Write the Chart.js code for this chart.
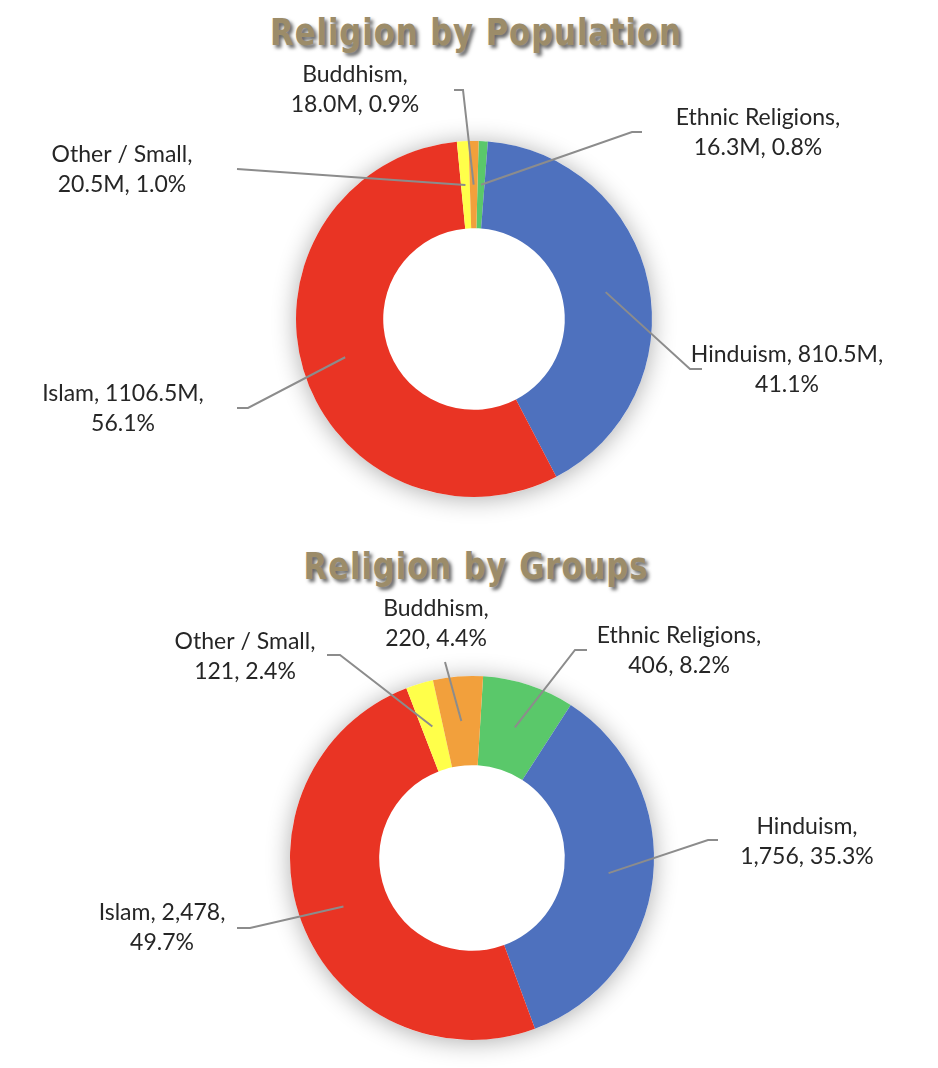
<!DOCTYPE html>
<html>
<head>
<meta charset="utf-8">
<script src="https://cdn.jsdelivr.net/npm/chart.js@4"></script>
<style>
  body { margin: 0; background: #fff; }
  #page { position: relative; width: 938px; height: 1068px; overflow: hidden; }
  .title {
    position: absolute; left: 7px; width: 938px; text-align: center;
    font-family: "DejaVu Sans Condensed", "Liberation Sans Narrow", sans-serif;
    font-weight: bold; font-size: 38px; line-height: 44px; letter-spacing: 1px;
    color: #9c8c69; text-shadow: 3px 3px 4px rgba(0,0,0,0.6);
    transform: scaleX(0.9); transform-origin: 50% 0;
  }
  canvas { position: absolute; left: 0; }
</style>
</head>
<body>
<div id="page">
  <div class="title" style="top:10px">Religion by Population</div>
  <canvas id="populationChart" width="938" height="534" style="top:0"></canvas>
  <div class="title" style="top:544px">Religion by Groups</div>
  <canvas id="groupsChart" width="938" height="534" style="top:534px"></canvas>
</div>
<script>
// data (slice order clockwise from the top)
const categories = ['Ethnic Religions', 'Hinduism', 'Islam', 'Other / Small', 'Buddhism'];
const populationMillions = [16.3, 810.5, 1106.5, 20.5, 18.0];
const groupCounts = [406, 1756, 2478, 121, 220];
const sliceColors = ['#5ac86a', '#4e71be', '#e93424', '#ffff4a', '#f2a03c'];

// label placement: x/y = centre of first text line, brk = break after name (1) or value (2)
const populationLabels = [
  { x: 758, y: 118, brk: 1, elbow: [632, 132], end: [642, 132] },
  { x: 787, y: 355, brk: 2, elbow: [690, 369], end: [702, 369] },
  { x: 123, y: 394, brk: 2, elbow: [248, 408], end: [237, 408] },
  { x: 122, y: 155, brk: 1, elbow: [237, 169], end: [237, 169] },
  { x: 355, y: 75,  brk: 1, elbow: [463, 90],  end: [454, 90] }
];
const groupLabels = [
  { x: 679, y: 636, brk: 1, elbow: [575, 650], end: [587, 650] },
  { x: 807, y: 827, brk: 1, elbow: [708, 840], end: [718, 840] },
  { x: 162, y: 913, brk: 2, elbow: [250, 928], end: [237, 928] },
  { x: 245, y: 642, brk: 1, elbow: [340, 655], end: [327, 655] },
  { x: 436, y: 609, brk: 1, elbow: [445, 662], end: [445, 662] }
];

const ringShadow = {
  id: 'ringShadow',
  beforeDatasetsDraw(chart) {
    const arc = chart.getDatasetMeta(0).data[0];
    if (!arc) return;
    const { x, y, outerRadius } = arc.getProps(['x', 'y', 'outerRadius'], true);
    const ctx = chart.ctx;
    ctx.save();
    ctx.shadowColor = 'rgba(0,0,0,0.32)';
    ctx.shadowBlur = 24;
    ctx.shadowOffsetY = 2;
    ctx.beginPath();
    ctx.arc(x, y, outerRadius, 0, Math.PI * 2);
    ctx.fillStyle = '#fff';
    ctx.fill();
    ctx.restore();
  }
};

function makeLeaderLabels(layout, formatValue, topOffset) {
  return {
    id: 'leaderLabels',
    afterDatasetsDraw(chart) {
      const ctx = chart.ctx;
      const values = chart.data.datasets[0].data;
      const total = values.reduce((a, b) => a + b, 0);
      chart.getDatasetMeta(0).data.forEach((arc, i) => {
        const p = arc.getProps(['x', 'y', 'startAngle', 'endAngle', 'innerRadius', 'outerRadius'], true);
        const mid = (p.startAngle + p.endAngle) / 2;
        const r = (p.innerRadius + p.outerRadius) / 2;
        const sx = p.x + Math.cos(mid) * r;
        const sy = p.y + Math.sin(mid) * r;
        const lay = layout[i];
        ctx.save();
        ctx.strokeStyle = '#8c8c8c';
        ctx.lineWidth = 2;
        ctx.beginPath();
        ctx.moveTo(sx, sy);
        ctx.lineTo(lay.elbow[0], lay.elbow[1] - topOffset);
        ctx.lineTo(lay.end[0], lay.end[1] - topOffset);
        ctx.stroke();

        const parts = [chart.data.labels[i] + ',', formatValue(values[i]) + ',', (values[i] / total * 100).toFixed(1) + '%'];
        const lines = [parts.slice(0, lay.brk).join(' '), parts.slice(lay.brk).join(' ')];
        ctx.fillStyle = '#262626';
        ctx.font = '23px Lato, "Open Sans", sans-serif';
        ctx.textAlign = 'center';
        ctx.textBaseline = 'middle';
        lines.forEach((t, k) => ctx.fillText(t, lay.x, lay.y - topOffset + k * 30));
        ctx.restore();
      });
    }
  };
}

function buildDoughnut(canvasId, values, rotation, padding, layout, formatValue, topOffset) {
  return new Chart(document.getElementById(canvasId), {
    type: 'doughnut',
    data: {
      labels: categories,
      datasets: [{
        data: values,
        backgroundColor: sliceColors,
        borderWidth: 0
      }]
    },
    options: {
      responsive: false,
      animation: false,
      cutout: '51%',
      rotation: rotation,
      layout: { padding: padding },
      plugins: {
        legend: { display: false },
        tooltip: { enabled: false }
      }
    },
    plugins: [ringShadow, makeLeaderLabels(layout, formatValue, topOffset)]
  });
}

buildDoughnut('populationChart', populationMillions, 1.5,
  { left: 296, right: 286, top: 141, bottom: 37 },
  populationLabels, v => v.toFixed(1) + 'M', 0);

buildDoughnut('groupsChart', groupCounts, 3.5,
  { left: 290, right: 284, top: 142, bottom: 28 },
  groupLabels, v => v.toLocaleString('en-US'), 534);
</script>
</body>
</html>
